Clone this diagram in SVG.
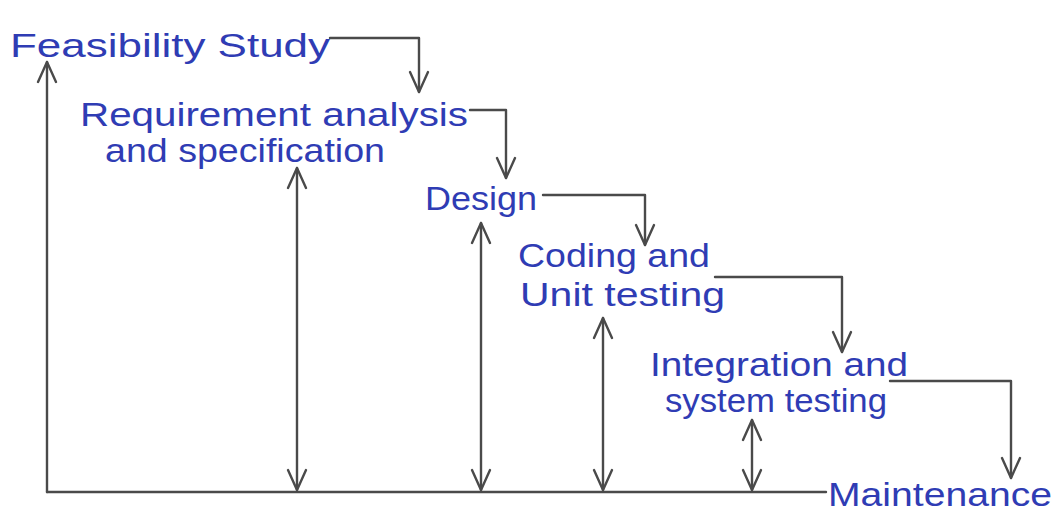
<svg xmlns="http://www.w3.org/2000/svg" width="1056" height="515" viewBox="0 0 1056 515">
  <style>
    .bg { fill: #ffffff; }
    .label { font-family: "Liberation Sans", "DejaVu Sans", sans-serif; fill: #2f3cb4; font-size: 34px; }
    .line { fill: none; stroke: #4a4a4a; stroke-width: 2.4; stroke-linecap: round; stroke-linejoin: round; }
    .arrow { marker-end: url(#head); }
    .both { marker-start: url(#head); marker-end: url(#head); }
  </style>
  <defs>
    <marker id="head" viewBox="0 0 24 24" refX="22" refY="12" markerWidth="24" markerHeight="24" markerUnits="userSpaceOnUse" orient="auto-start-reverse">
      <path d="M2,3 L22,12 L2,21" fill="none" stroke="#4a4a4a" stroke-width="2.4" stroke-linecap="round" stroke-linejoin="round"/>
    </marker>
  </defs>

  <rect class="bg" x="0" y="0" width="1056" height="515"/>

  <!-- phases -->
  <g id="feasibility">
    <text class="label" x="10" y="57" font-size="38" textLength="320" lengthAdjust="spacingAndGlyphs">Feasibility Study</text>
  </g>
  <g id="requirements">
    <text class="label" x="80" y="126" font-size="30" textLength="388" lengthAdjust="spacingAndGlyphs">Requirement analysis</text>
    <text class="label" x="105" y="162" font-size="30" textLength="280" lengthAdjust="spacingAndGlyphs">and specification</text>
  </g>
  <g id="design">
    <text class="label" x="425" y="210" textLength="112" lengthAdjust="spacingAndGlyphs">Design</text>
  </g>
  <g id="coding">
    <text class="label" x="518" y="267" textLength="192" lengthAdjust="spacingAndGlyphs">Coding and</text>
    <text class="label" x="520" y="306" textLength="205" lengthAdjust="spacingAndGlyphs">Unit testing</text>
  </g>
  <g id="integration">
    <text class="label" x="650" y="376" font-size="32" textLength="258" lengthAdjust="spacingAndGlyphs">Integration and</text>
    <text class="label" x="665" y="412" font-size="32" textLength="222" lengthAdjust="spacingAndGlyphs">system testing</text>
  </g>
  <g id="maintenance">
    <text class="label" x="828" y="506" font-size="40" textLength="224" lengthAdjust="spacingAndGlyphs">Maintenance</text>
  </g>

  <!-- connectors -->
  <g id="connectors">
    <!-- step-down flow between phases -->
    <path class="line arrow" d="M330,38 H419 V92"/>
    <path class="line arrow" d="M470,110 H506 V178"/>
    <path class="line arrow" d="M543,195 H645 V245"/>
    <path class="line arrow" d="M715,277 H842 V352"/>
    <path class="line arrow" d="M890,381 H1011 V478"/>

    <!-- feedback axis -->
    <path class="line" d="M826,492 H47"/>
    <path class="line arrow" d="M47,492 V62"/>

    <!-- feedback links to each phase -->
    <path class="line both" d="M297,490 V168"/>
    <path class="line both" d="M481,490 V223"/>
    <path class="line both" d="M603,490 V318"/>
    <path class="line both" d="M752,490 V420"/>
  </g>
</svg>
